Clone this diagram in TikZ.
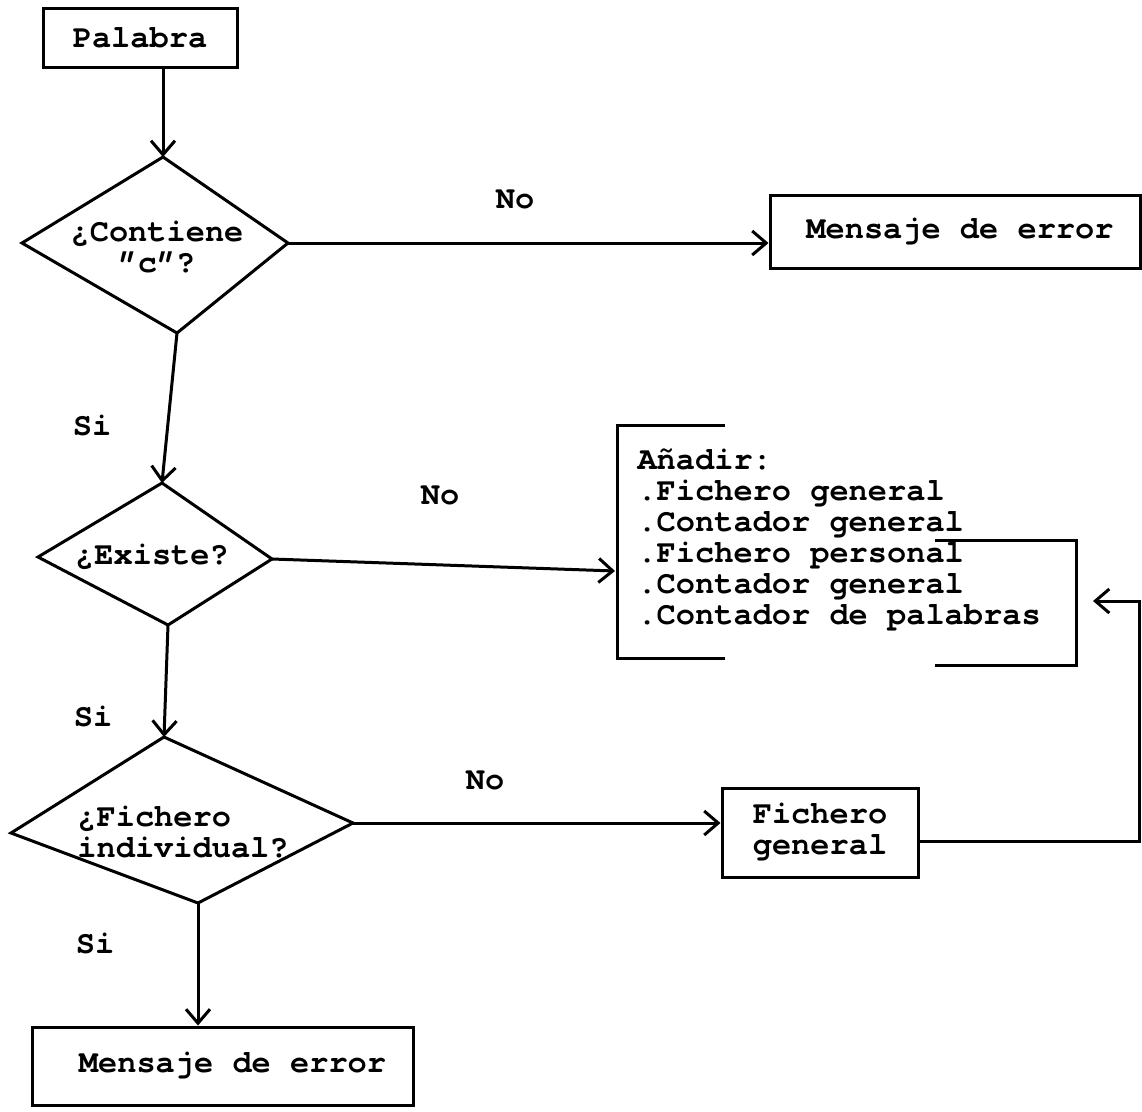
\documentclass[tikz,border=0pt]{standalone}
\usepackage{fontspec}
\setmonofont{TeX Gyre Cursor}
\usetikzlibrary{arrows.meta}
\begin{document}
\begin{tikzpicture}[x=1pt,y=-1pt,line width=3pt,
  font=\ttfamily\bfseries\fontsize{32}{31}\selectfont,
  box/.style={draw,rectangle,inner sep=0pt},
  txt/.style={inner sep=0pt,align=center},
  lbl/.style={inner sep=0pt},
  arr/.style={-{Straight Barb[length=14pt,width=24pt,line width=3pt]}}]
\useasboundingbox[fill=white] (0,0) rectangle (1142,1111);

% boxes
\node[box,minimum width=194pt,minimum height=59pt] (pal) at (140,37.5) {Palabra};
\node[box,minimum width=370pt,minimum height=73pt] (err1) at (955,231.5) {\hspace*{10pt}Mensaje de error};
\node[box,minimum width=196pt,minimum height=89pt,align=center] (fg) at (820,832.5) {Fichero\\general};
\node[box,minimum width=381pt,minimum height=78pt] (err2) at (222.5,1066) {\hspace*{20pt}Mensaje de error};

% decision 1
\coordinate (d1t) at (163,157);
\coordinate (d1r) at (288,243);
\coordinate (d1b) at (177,333);
\coordinate (d1l) at (22,243);
\draw (d1t) -- (d1r) -- (d1b) -- (d1l) -- cycle;
\node[txt] (d1) at (157,247) {¿Contiene\\”c”?};

% decision 2
\coordinate (d2t) at (162,483);
\coordinate (d2r) at (272,559);
\coordinate (d2b) at (168,625);
\coordinate (d2l) at (38,557);
\draw (d2t) -- (d2r) -- (d2b) -- (d2l) -- cycle;
\node[txt] (d2) at (152,557) {¿Existe?};

% decision 3
\coordinate (d3t) at (164,737);
\coordinate (d3r) at (353,823);
\coordinate (d3b) at (198,903);
\coordinate (d3l) at (11,833);
\draw (d3t) -- (d3r) -- (d3b) -- (d3l) -- cycle;
\node[txt,align=left] (d3) at (183,832) {¿Fichero\\individual?};

% Añadir block
\node[lbl,anchor=west,align=left] (add) at (636,540) {Añadir:\\.Fichero general\\.Contador general\\.Fichero personal\\.Contador general\\.Contador de palabras};
\coordinate (addin) at (615,571);
\draw (725,425) -- (617,425) -- (617,658) -- (725,658);
\draw (935,540) -- (1076,540) -- (1076,665) -- (935,665);

% connectors
\draw[arr] (pal.south -| d1t) -- (d1t);
\draw[arr] (d1r) -- (d1r -| err1.west);
\draw[arr] (d1b) -- (d2t);
\draw[arr] (d2r) -- (addin);
\draw[arr] (d2b) -- (d3t);
\draw[arr] (d3r) -- (d3r -| fg.west);
\draw[arr] (d3b) -- (d3b |- err2.north);
\coordinate (back) at (1093,601);
\draw[arr] (fg.east |- 0,841) -- (1139,841) -- (1139,601) -- (back);

% labels
\node[lbl] (no1) at (515,199) {No};
\node[lbl] (si1) at (92,425) {Si};
\node[lbl] (no2) at (440,495) {No};
\node[lbl] (si2) at (93,716) {Si};
\node[lbl] (no3) at (485,780) {No};
\node[lbl] (si3) at (95,943) {Si};
\end{tikzpicture}
\end{document}
